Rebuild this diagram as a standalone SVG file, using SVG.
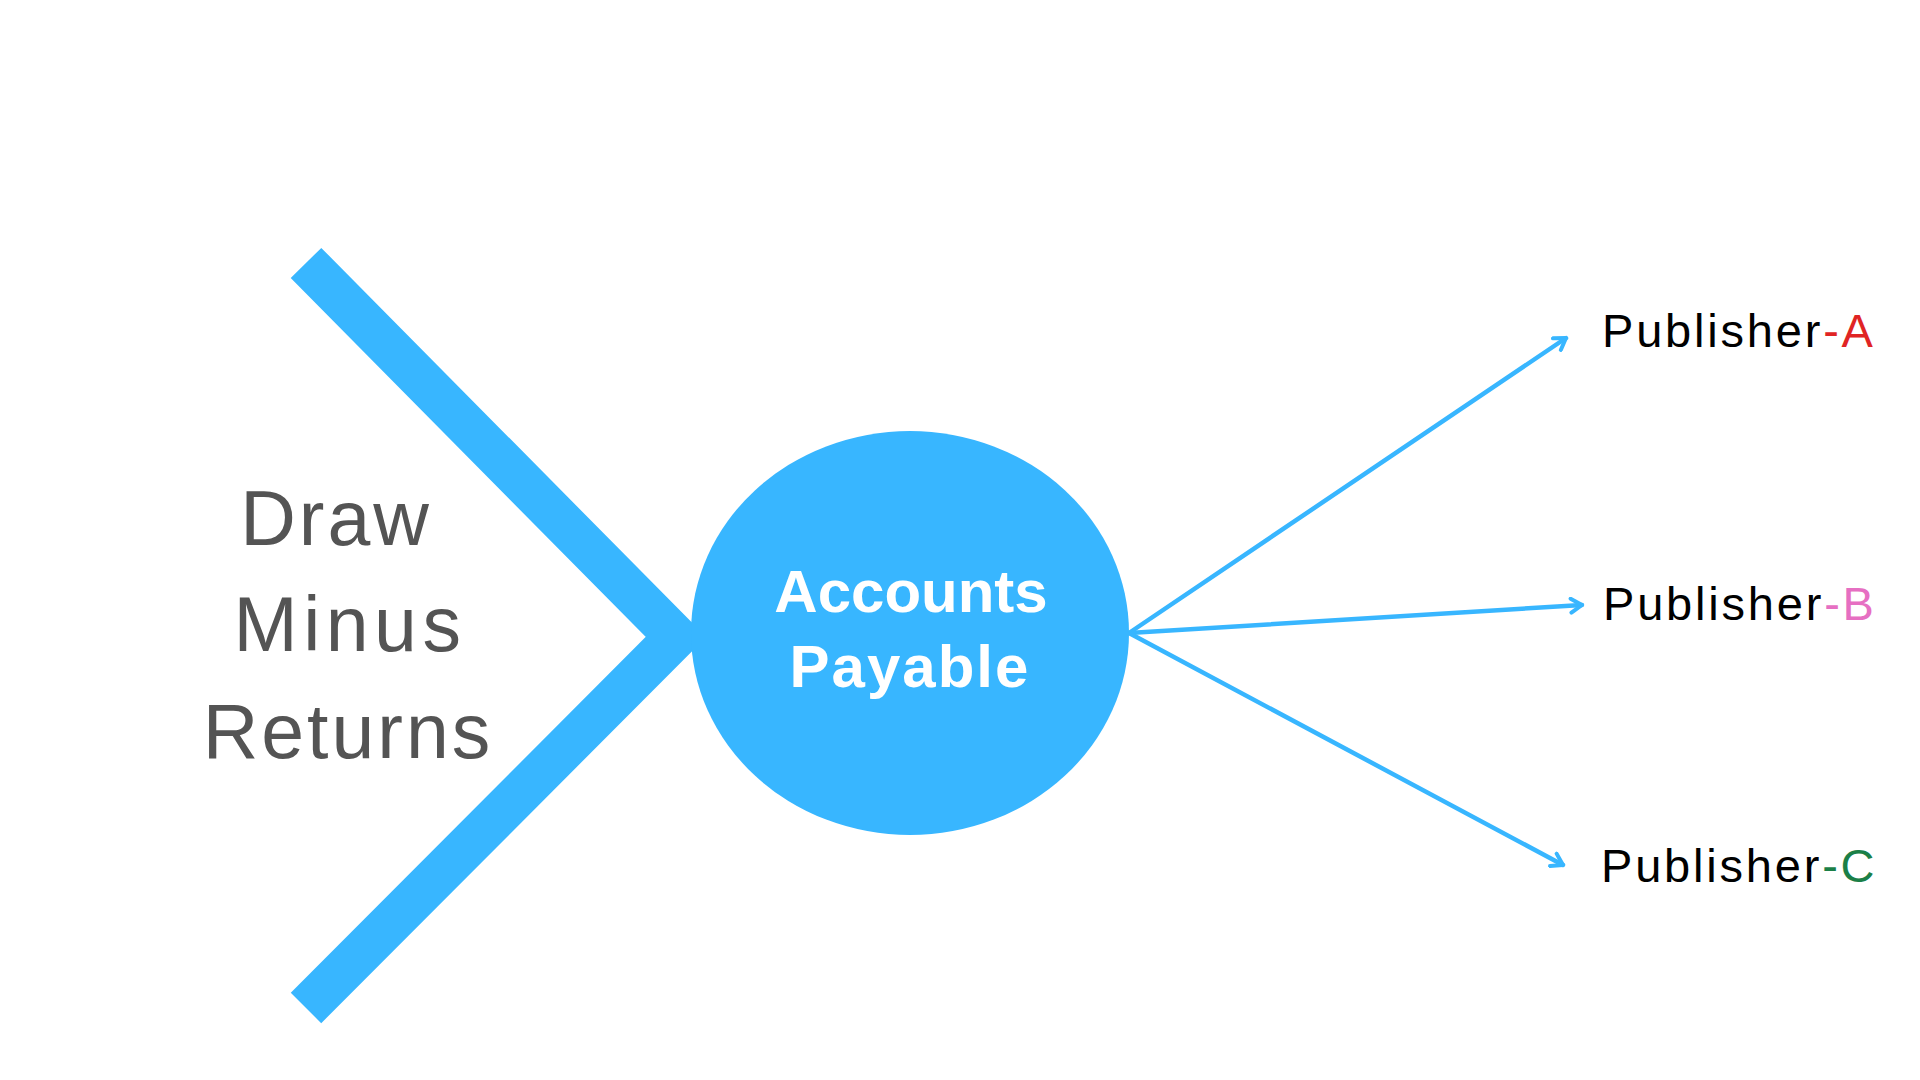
<svg xmlns="http://www.w3.org/2000/svg" width="1920" height="1080" viewBox="0 0 1920 1080">
<style>
.blue{fill:#38B6FF}
.arm{fill:none;stroke:#38B6FF;stroke-width:43;stroke-linejoin:miter;stroke-linecap:butt}
.conn{fill:none;stroke:#38B6FF;stroke-width:4.5;stroke-linecap:round}
.left{font-family:"Liberation Sans",Arial,sans-serif;font-size:77px;fill:#545454;letter-spacing:3px;text-anchor:middle}
.center{font-family:"Liberation Sans",Arial,sans-serif;font-size:60px;font-weight:bold;fill:#FFFFFF;text-anchor:middle}
.pub{font-family:"Liberation Sans",Arial,sans-serif;font-size:47px;fill:#000000;letter-spacing:2.8px}
</style>
<defs>
<marker id="arrow" viewBox="0 0 18 18" refX="16" refY="9" markerWidth="18" markerHeight="18" markerUnits="userSpaceOnUse" orient="auto">
<path d="M5,2 L16,9 L5,16" fill="none" stroke="#38B6FF" stroke-width="4" stroke-linecap="round" stroke-linejoin="round"/>
</marker>
</defs>
<rect width="1920" height="1080" fill="#FFFFFF"/>
<g id="funnel">
<polyline class="arm" points="306,263 676,637 306,1008"/>
</g>
<g id="draw-minus-returns">
<text class="left" x="336" y="545">Draw</text>
<text class="left" x="350" y="651" style="letter-spacing:5.5px">Minus</text>
<text class="left" x="348" y="758">Returns</text>
</g>
<g id="connectors">
<line class="conn" x1="1129" y1="633" x2="1566" y2="338" marker-end="url(#arrow)"/>
<line class="conn" x1="1129" y1="633" x2="1582" y2="605" marker-end="url(#arrow)"/>
<line class="conn" x1="1129" y1="633" x2="1563" y2="865" marker-end="url(#arrow)"/>
</g>
<g id="accounts-payable">
<ellipse class="blue" cx="910" cy="633" rx="219" ry="202"/>
<text class="center" x="911" y="612">Accounts</text>
<text class="center" x="910" y="687" style="letter-spacing:2px">Payable</text>
</g>
<g id="publisher-a">
<text class="pub" x="1602" y="347">Publisher<tspan fill="#E02424">-A</tspan></text>
</g>
<g id="publisher-b">
<text class="pub" x="1603" y="620">Publisher<tspan fill="#E66FC2">-B</tspan></text>
</g>
<g id="publisher-c">
<text class="pub" x="1601" y="882">Publisher<tspan fill="#1B7F47">-C</tspan></text>
</g>
</svg>
